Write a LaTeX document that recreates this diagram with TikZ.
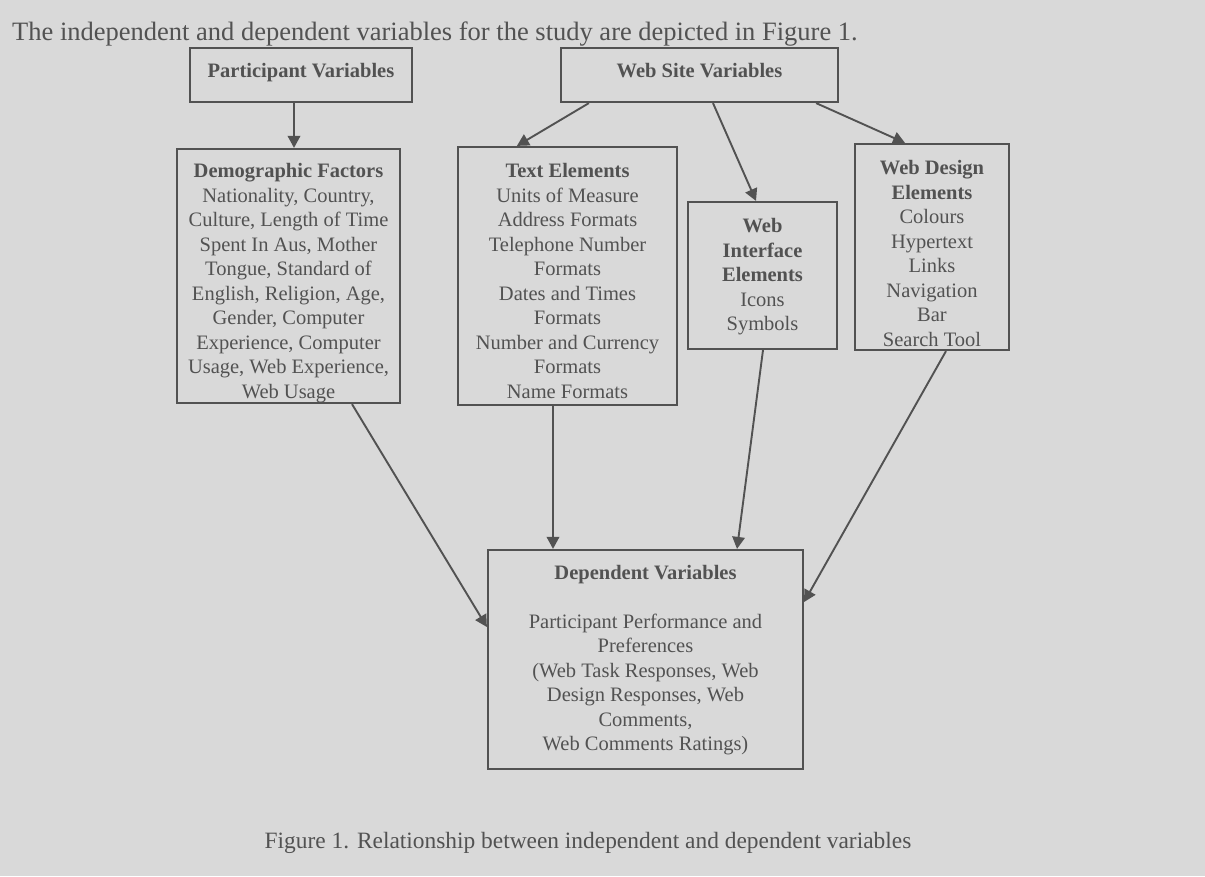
\documentclass[tikz,border=0pt]{standalone}
\usepackage{fontspec}
\setmainfont{Liberation Serif}
\usetikzlibrary{arrows.meta}
\definecolor{bgc}{HTML}{D9D9D9}
\definecolor{ink}{HTML}{525252}
\tikzset{
  box/.style={draw=ink, line width=2.2pt, inner sep=0pt, fill=none},
  boxtext/.style={text=ink, align=center, anchor=north, inner sep=0pt,
    font=\fontsize{20.5}{24.5}\selectfont},
  conn/.style={draw=ink, line width=1.9pt, -{Triangle[length=12pt,width=12.5pt]}},
}
\begin{document}
\begin{tikzpicture}[x=1pt, y=-1pt]
\fill[bgc] (0,0) rectangle (1205,876);
\useasboundingbox (0,0) rectangle (1205,876);

% top sentence
\node[anchor=base west, inner sep=0pt, text=ink, font=\fontsize{26.5}{30}\selectfont] (intro) at (12,40)
  {The independent and dependent variables for the study are depicted in Figure 1.};

% boxes
\node[box, minimum width=222pt, minimum height=54pt] (pv) at (301,75) {};
\node[box, minimum width=277pt, minimum height=54pt] (wsv) at (699.5,75) {};
\node[box, minimum width=223pt, minimum height=254pt] (df) at (288.5,276) {};
\node[box, minimum width=219pt, minimum height=258pt] (te) at (567.5,276) {};
\node[box, minimum width=149pt, minimum height=147pt] (wi) at (762.5,275.5) {};
\node[box, minimum width=154pt, minimum height=206pt] (wd) at (932,247) {};
\node[box, minimum width=315pt, minimum height=219pt] (dv) at (645.5,659.5) {};

% texts (north = first baseline - 17.15)
\node[boxtext] (pvt) at (301,60) {\strut\textbf{Participant Variables}};
\node[boxtext] (wsvt) at (699.5,60) {\strut\textbf{Web Site Variables}};
\node[boxtext] (dft) at (288.5,160.5) {\strut\textbf{Demographic Factors}\\
  Nationality, Country,\\ Culture, Length of Time\\ Spent In Aus, Mother\\
  Tongue, Standard of\\ English, Religion, Age,\\ Gender, Computer\\
  Experience, Computer\\ Usage, Web Experience,\\ Web Usage};
\node[boxtext] (tet) at (567.5,160.5) {\strut\textbf{Text Elements}\\
  Units of Measure\\ Address Formats\\ Telephone Number\\ Formats\\
  Dates and Times\\ Formats\\ Number and Currency\\ Formats\\ Name Formats};
\node[boxtext] (wit) at (762.5,215.5) {\strut\textbf{Web}\\ \textbf{Interface}\\
  \textbf{Elements}\\ Icons\\ Symbols};
\node[boxtext] (wdt) at (932,157.5) {\strut\textbf{Web Design}\\ \textbf{Elements}\\
  Colours\\ Hypertext\\ Links\\ Navigation\\ Bar\\ Search Tool};
\node[boxtext] (dvt) at (645.5,562) {\strut\textbf{Dependent Variables}\\ \strut\\
  Participant Performance and\\ Preferences\\ (Web Task Responses, Web\\
  Design Responses, Web\\ Comments,\\ Web Comments Ratings)};

% caption
\node[anchor=base, inner sep=0pt, text=ink, font=\fontsize{23.4}{28}\selectfont] (cap) at (588,848)
  {Figure 1. Relationship between independent and dependent variables};

% connectors
\draw[conn] ([xshift=-7pt]pv.south) -- ([xshift=5.5pt]df.north);
\draw[conn] ([xshift=29pt]wsv.south west) -- ([xshift=60pt]te.north west);
\draw[conn] ([xshift=13.5pt]wsv.south) -- ([xshift=-6.5pt]wi.north);
\draw[conn] ([xshift=-23pt]wsv.south east) -- ([xshift=-27pt]wd.north);
\draw[conn] ([xshift=63.5pt]df.south) -- ([yshift=32.5pt]dv.west);
\draw[conn] ([xshift=-14.5pt]te.south) -- ([xshift=-92.5pt]dv.north);
\draw[conn] ([xshift=0.5pt]wi.south) -- ([xshift=91.5pt]dv.north);
\draw[conn] ([xshift=14pt]wd.south) -- ([yshift=57.5pt]dv.east);
\end{tikzpicture}
\end{document}
